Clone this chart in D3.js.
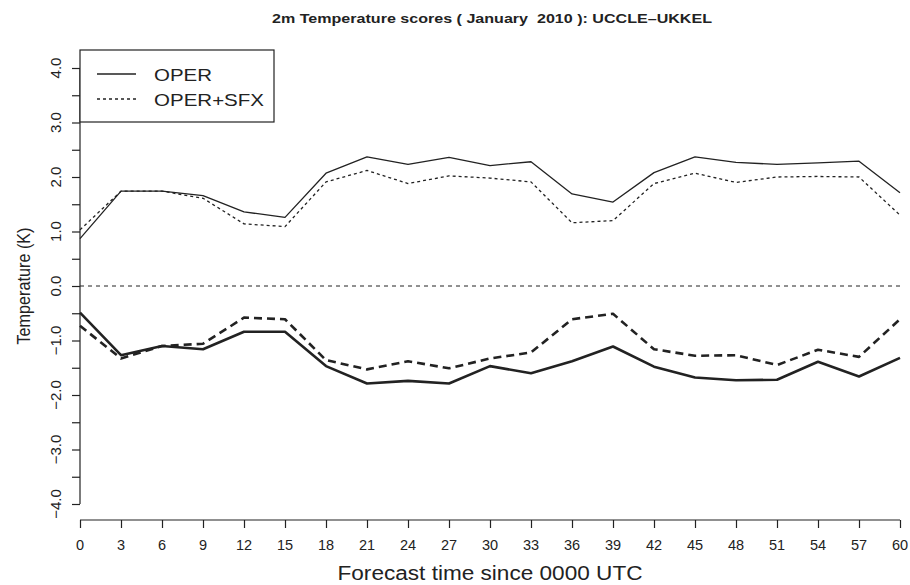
<!DOCTYPE html>
<html>
<head>
<meta charset="utf-8">
<script src="https://cdn.jsdelivr.net/npm/d3@7"></script>
<style>
  html, body { margin: 0; padding: 0; background: #fff; }
  svg { display: block; font-family: "Liberation Sans", Arial, Helvetica, sans-serif; }
</style>
</head>
<body>
<svg id="chart" width="910" height="585"></svg>
<script>
// ---- Data ----
const leadTimes = [0,3,6,9,12,15,18,21,24,27,30,33,36,39,42,45,48,51,54,57,60];
const rmseOper  = [0.87,1.74,1.74,1.66,1.36,1.26,2.07,2.37,2.23,2.36,2.21,2.28,1.69,1.54,2.08,2.37,2.27,2.23,2.26,2.29,1.71];
const rmseSfx   = [1.03,1.74,1.74,1.61,1.14,1.09,1.91,2.12,1.88,2.02,1.98,1.91,1.16,1.20,1.88,2.07,1.90,2.00,2.01,2.00,1.30];
const biasOper  = [-0.49,-1.27,-1.10,-1.16,-0.84,-0.84,-1.47,-1.79,-1.74,-1.79,-1.47,-1.60,-1.38,-1.11,-1.48,-1.68,-1.73,-1.72,-1.39,-1.66,-1.32];
const biasSfx   = [-0.73,-1.33,-1.10,-1.06,-0.58,-0.61,-1.36,-1.53,-1.38,-1.51,-1.33,-1.22,-0.61,-0.51,-1.16,-1.28,-1.27,-1.45,-1.17,-1.30,-0.61];
const yTicks    = [-4,-3.5,-3,-2.5,-2,-1.5,-1,-0.5,0,0.5,1,1.5,2,2.5,3,3.5,4];
const yLabelTicks = [-4,-3,-2,-1,0,1,2,3,4];
const legendNames = ["OPER","OPER+SFX"];
const titleText = "2m Temperature scores ( January  2010 ): UCCLE\u2013UKKEL";
const xTitle = "Forecast time since 0000 UTC";
const yTitle = "Temperature (K)";

// ---- Layout ----
const svg = d3.select("#chart");
const ink = "#222";
const x = d3.scaleLinear().domain([0,60]).range([80,900]);
const y = d3.scaleLinear().domain([-4,4]).range([504,68]);
const fmt = v => (v < 0 ? "\u2212" : "") + Math.abs(v).toFixed(1);

// Title
svg.append("text").attr("x", 492).attr("y", 23)
  .attr("text-anchor","middle").attr("font-size",13).attr("font-weight","bold")
  .attr("fill", ink).attr("textLength",440).attr("lengthAdjust","spacingAndGlyphs")
  .style("white-space","pre")
  .text(titleText);

// Y axis
const yAxis = d3.axisLeft(y).tickValues(yTicks).tickSize(8).tickFormat("");
const gy = svg.append("g").attr("transform","translate(80,0)").call(yAxis);
gy.select(".domain").attr("d", `M0,${y(-4)}V${y(4)}`).attr("stroke", ink).attr("stroke-width",1.2);
gy.selectAll(".tick line").attr("stroke", ink).attr("stroke-width",1.2);
svg.append("g").selectAll("text").data(yLabelTicks).join("text")
  .attr("transform", d => `translate(61,${y(d)}) rotate(-90)`)
  .attr("text-anchor","middle").attr("font-size",15).attr("fill",ink)
  .text(fmt);

// X axis
const xAxis = d3.axisBottom(x).tickValues(leadTimes).tickSize(8).tickFormat("");
const gx = svg.append("g").attr("transform","translate(0,520)").call(xAxis);
gx.select(".domain").attr("d", `M${x(0)},0H${x(60)}`).attr("stroke", ink).attr("stroke-width",1.2);
gx.selectAll(".tick line").attr("stroke", ink).attr("stroke-width",1.2);
svg.append("g").selectAll("text").data(leadTimes).join("text")
  .attr("x", d => x(d)).attr("y", 550)
  .attr("text-anchor","middle").attr("font-size",14.5).attr("fill",ink)
  .text(d => d);

// Axis titles
svg.append("text").attr("x", 490).attr("y", 580)
  .attr("text-anchor","middle").attr("font-size",20).attr("fill",ink)
  .attr("textLength",305).attr("lengthAdjust","spacingAndGlyphs")
  .text(xTitle);
svg.append("text").attr("transform", `translate(30,${y(0)}) rotate(-90)`)
  .attr("text-anchor","middle").attr("font-size",18.5).attr("fill",ink)
  .attr("textLength",117).attr("lengthAdjust","spacingAndGlyphs")
  .text(yTitle);

// Zero line
svg.append("line").attr("x1", x(0)).attr("x2", x(60)).attr("y1", y(0)).attr("y2", y(0))
  .attr("stroke", ink).attr("stroke-width",1).attr("stroke-dasharray","4,4");

// Lines
const line = d3.line().x((d,i) => x(leadTimes[i])).y(d => y(d));
const series = [
  {vals: rmseOper, w: 1.3, dash: null},
  {vals: rmseSfx,  w: 1.3, dash: "3,3"},
  {vals: biasOper, w: 2.6, dash: null},
  {vals: biasSfx,  w: 2.6, dash: "8,5"}
];
series.forEach(s => {
  svg.append("path").attr("d", line(s.vals)).attr("fill","none")
    .attr("stroke", ink).attr("stroke-width", s.w)
    .attr("stroke-linejoin","round")
    .attr("stroke-dasharray", s.dash);
});

// Legend
svg.append("rect").attr("x",80).attr("y",50).attr("width",194).attr("height",72)
  .attr("fill","#fff").attr("stroke",ink).attr("stroke-width",1.2);
const legDash = [null, "3,3"];
const legWidths = [58, 110];
legendNames.forEach((n,i) => {
  const cy = 74 + i*25;
  svg.append("line").attr("x1",97).attr("x2",136).attr("y1",cy).attr("y2",cy)
    .attr("stroke",ink).attr("stroke-width",1.3).attr("stroke-dasharray", legDash[i]);
  svg.append("text").attr("x",154).attr("y",cy+7)
    .attr("font-size",17).attr("fill",ink)
    .attr("textLength", legWidths[i]).attr("lengthAdjust","spacingAndGlyphs")
    .text(n);
});
</script>
</body>
</html>
